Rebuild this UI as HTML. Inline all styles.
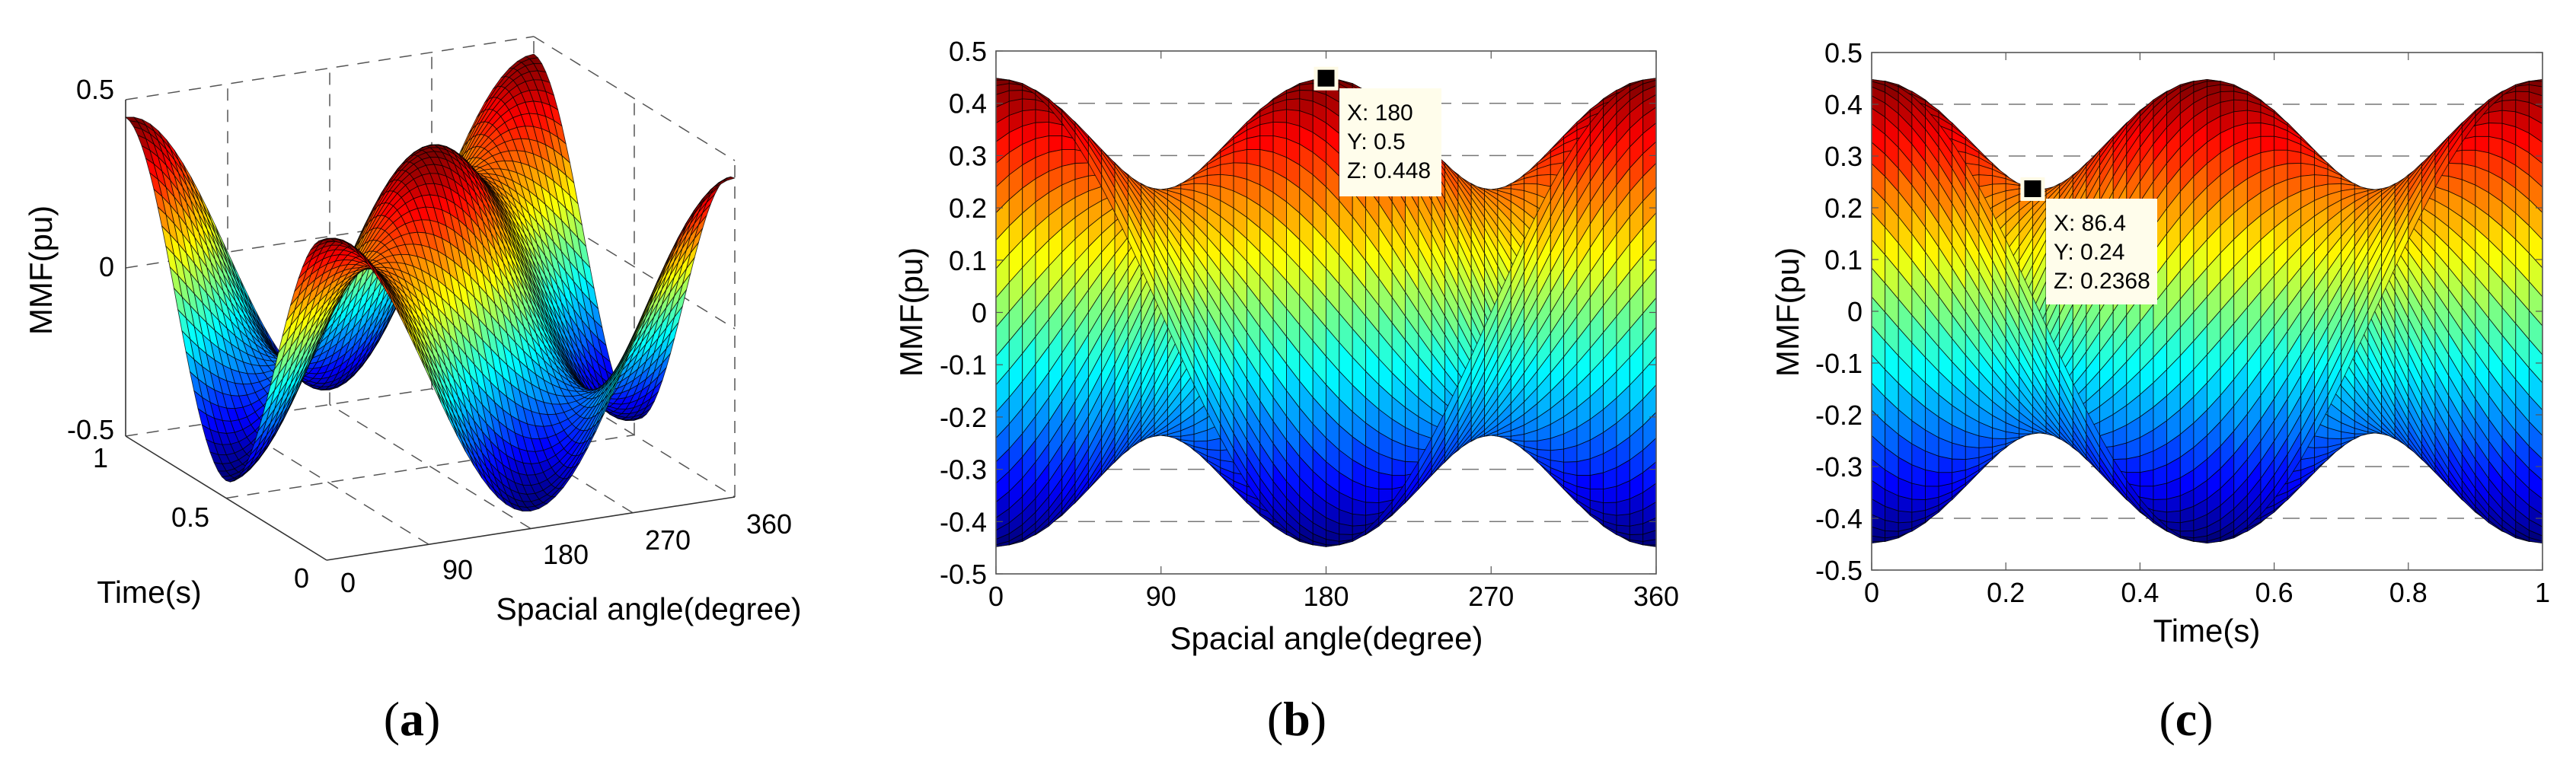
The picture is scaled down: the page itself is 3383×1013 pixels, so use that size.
<!DOCTYPE html>
<html><head><meta charset="utf-8"><style>
html,body{margin:0;padding:0;background:#fff;}
svg{display:block;font-family:"Liberation Sans",Arial,sans-serif;}
</style></head><body>
<svg id="root" width="3383" height="1013" viewBox="0 0 3383 1013" xmlns="http://www.w3.org/2000/svg">
<rect width="3383" height="1013" fill="#fff"/>
<g id="pa"></g>
<g id="pb"></g>
<g id="pc"></g>
<g id="labels" font-size="36" fill="#000">
  <text x="150" y="130" text-anchor="end">0.5</text>
  <text x="150" y="363" text-anchor="end">0</text>
  <text x="150" y="577" text-anchor="end">-0.5</text>
  <text x="132" y="614" text-anchor="middle">1</text>
  <text x="250" y="692" text-anchor="middle">0.5</text>
  <text x="396" y="772" text-anchor="middle">0</text>
  <text x="457" y="778" text-anchor="middle">0</text>
  <text x="601" y="761" text-anchor="middle">90</text>
  <text x="743" y="741" text-anchor="middle">180</text>
  <text x="877" y="722" text-anchor="middle">270</text>
  <text x="1010" y="701" text-anchor="middle">360</text>
  <text x="196" y="792" font-size="41" text-anchor="middle">Time(s)</text>
  <text x="852" y="814" font-size="41" text-anchor="middle">Spacial angle(degree)</text>
  <text transform="translate(68,355) rotate(-90)" font-size="42" text-anchor="middle">MMF(pu)</text>
  <text x="1742" y="853" font-size="42" text-anchor="middle">Spacial angle(degree)</text>
  <text transform="translate(1211,410) rotate(-90)" font-size="42" text-anchor="middle">MMF(pu)</text>
  <text x="2898" y="843" font-size="42" text-anchor="middle">Time(s)</text>
  <text transform="translate(2362,410) rotate(-90)" font-size="42" text-anchor="middle">MMF(pu)</text>
  <text x="541" y="966" font-family="'Liberation Serif',serif" font-size="64" text-anchor="middle">(<tspan font-weight="bold">a</tspan>)</text>
  <text x="1703" y="966" font-family="'Liberation Serif',serif" font-size="64" text-anchor="middle">(<tspan font-weight="bold">b</tspan>)</text>
  <text x="2871" y="966" font-family="'Liberation Serif',serif" font-size="64" text-anchor="middle">(<tspan font-weight="bold">c</tspan>)</text>
</g>
<g id="tips"></g>
</svg>
<script>
const angleStepDeg = [7.2];
const angleRange = [0, 360];
const timeStep = [0.02];
const timeRange = [0, 1];
const peakAmp = [0.448];
const quadAmp = [0.236];
const zTicks = [-0.5,-0.4,-0.3,-0.2,-0.1,0,0.1,0.2,0.3,0.4,0.5];
const zTickLabels = ["-0.5","-0.4","-0.3","-0.2","-0.1","0","0.1","0.2","0.3","0.4","0.5"];
const angleTicks = [0,90,180,270,360];
const timeTicks = [0,0.2,0.4,0.6,0.8,1];
const timeTickLabels = ["0","0.2","0.4","0.6","0.8","1"];
const gridLevels = [0.4,0.3,-0.3,-0.4];
const tipB = [180, 0.5, 0.448];
const tipC = [86.4, 0.24, 0.2368];

const NS = "http://www.w3.org/2000/svg";
function mk(tag, attrs, parent){ const e=document.createElementNS(NS,tag); for(const k in attrs) e.setAttribute(k,attrs[k]); parent.appendChild(e); return e; }

const angles=[]; for(let a=angleRange[0]; a<=angleRange[1]+1e-9; a+=angleStepDeg[0]) angles.push(a);
const times=[]; for(let t=timeRange[0]; t<=timeRange[1]+1e-9; t+=timeStep[0]) times.push(t);
function F(a,t){ const r=a*Math.PI/180, w=2*Math.PI*t; return peakAmp[0]*Math.cos(r)*Math.cos(w)+quadAmp[0]*Math.sin(r)*Math.sin(w); }
const Z = times.map(t=>angles.map(a=>F(a,t)));
let zmin=Infinity,zmax=-Infinity; Z.forEach(r=>r.forEach(v=>{zmin=Math.min(zmin,v);zmax=Math.max(zmax,v);}));
function cl(x){return Math.max(0,Math.min(1,x));}
function jet(z){ let l=Math.floor((z-zmin)/(zmax-zmin)*63.999); const v=l/63;
  const r=cl(1.5-Math.abs(4*v-3)), g=cl(1.5-Math.abs(4*v-2)), b=cl(1.5-Math.abs(4*v-1));
  return `rgb(${Math.round(r*255)},${Math.round(g*255)},${Math.round(b*255)})`; }

const faces=[];
for(let i=0;i<times.length-1;i++) for(let j=0;j<angles.length-1;j++){
  faces.push({i,j,c:jet((Z[i][j]+Z[i+1][j]+Z[i][j+1]+Z[i+1][j+1])/4)});
}
function quad(i,j,proj){ return [[i,j],[i,j+1],[i+1,j+1],[i+1,j]].map(([p,q])=>proj(angles[q],times[p],Z[p][q])); }
function drawFaces(g, list, proj, name){
  for(const f of list){
    const pts=quad(f.i,f.j,proj).map(p=>p[0].toFixed(1)+","+p[1].toFixed(1)).join(" ");
    const el=mk("polygon",{points:pts,fill:f.c,stroke:"#000","stroke-width":"0.9","stroke-opacity":"0.75","stroke-linejoin":"round"},g);
    
    
  }
}

const pa=document.getElementById("pa");
function P3(a,t,z){ return [429+536*a/360-264*t, 736-83*a/360-163*t-442*(z+0.5)]; }
function line3(p1,p2,dash,name){
  const A=P3(...p1),B=P3(...p2);
  const el=mk("line",{x1:A[0],y1:A[1],x2:B[0],y2:B[1],stroke:dash?"#555":"#333","stroke-width":dash?1.5:1.6},pa);
  if(dash) el.setAttribute("stroke-dasharray","16,12");
  
  
}
[-0.5,0,0.5].forEach(z=>{ line3([0,1,z],[360,1,z],true,"a-backwall-grid"); line3([360,1,z],[360,0,z],true,"a-sidewall-grid"); });
[90,180,270,360].forEach(a=>line3([a,1,-0.5],[a,1,0.5],true,"a-backwall-vgrid"));
[0,0.5].forEach(t=>line3([360,t,-0.5],[360,t,0.5],true,"a-sidewall-vgrid"));
line3([0,0.5,-0.5],[360,0.5,-0.5],true,"a-floor-grid");
[90,180,270].forEach(a=>line3([a,0,-0.5],[a,1,-0.5],true,"a-floor-grid"));
line3([0,1,-0.5],[0,1,0.5],false,"a-z-axis");
line3([0,1,-0.5],[0,0,-0.5],false,"a-time-axis");
line3([0,0,-0.5],[360,0,-0.5],false,"a-angle-axis");
const fa=faces.slice().sort((f,g)=>{const d=(x)=>-83*angles[x.j]/360-163*times[x.i]; return d(f)-d(g);});
drawFaces(pa,fa,P3,"a-surface-face");

function panel2D(g,x0,x1,y0,y1,proj,order,name,xt,xl,xv){
  const ys=z=>y1-(y1-y0)*(z+0.5);
  gridLevels.forEach(z=>{ const el=mk("line",{x1:x0,x2:x1,y1:ys(z),y2:ys(z),stroke:"#777","stroke-width":1.5,"stroke-dasharray":"22,14"},g);
    
     });
  drawFaces(g,order,proj,name+"-surface-face");
  const box=mk("rect",{x:x0,y:y0,width:x1-x0,height:y1-y0,fill:"none",stroke:"#555","stroke-width":1.6},g);
  
  
  zTicks.forEach((z,k)=>{ const y=ys(z);
    mk("line",{x1:x0,x2:x0+9,y1:y,y2:y,stroke:"#555","stroke-width":1.2},g);
    mk("line",{x1:x1,x2:x1-9,y1:y,y2:y,stroke:"#555","stroke-width":1.2},g);
    const tx=mk("text",{x:x0-12,y:y+13,"text-anchor":"end","font-size":36},g); tx.textContent=zTickLabels[k];
    
     });
  xt.forEach((v,k)=>{ const x=xv(v);
    mk("line",{x1:x,x2:x,y1:y1,y2:y1-10,stroke:"#555","stroke-width":1.2},g);
    mk("line",{x1:x,x2:x,y1:y0,y2:y0+10,stroke:"#555","stroke-width":1.2},g);
    const tx=mk("text",{x:x,y:y1+42,"text-anchor":"middle","font-size":36},g); tx.textContent=xl[k];
    
     });
}
const bx=a=>1308+867*a/360, by=z=>754-687*(z+0.5);
const fb=faces.slice().sort((f,g)=>g.i-f.i);
panel2D(document.getElementById("pb"),1308,2175,67,754,(a,t,z)=>[bx(a),by(z)],fb,"b",angleTicks,angleTicks.map(String),bx);
const cx=t=>2458+881*t, cy=z=>749-680*(z+0.5);
const fc=faces.slice().sort((f,g)=>f.j-g.j);
panel2D(document.getElementById("pc"),2458,3339,69,749,(a,t,z)=>[cx(t),cy(z)],fc,"c",timeTicks,timeTickLabels,cx);

const tips=document.getElementById("tips");
function tip(mx,my,bxL,byT,bw,bh,vals,name){
  const g=mk("g",{},tips);
  
  
  mk("rect",{x:mx-16,y:my-15,width:32,height:31,fill:"#fffbe6"},g);
  mk("rect",{x:mx-11,y:my-11,width:22,height:22,fill:"#000"},g);
  mk("rect",{x:bxL,y:byT,width:bw,height:bh,fill:"#fffdeb"},g);
  const lab=["X: ","Y: ","Z: "];
  vals.forEach((v,k)=>{ const t=mk("text",{x:bxL+10,y:byT+42+k*38,"font-size":30},g); t.textContent=lab[k]+v;
    
     });
}
tip(bx(tipB[0]),by(tipB[2]),1759,116,134,142,tipB,"b-datatip");
tip(cx(tipC[1]),cy(tipC[2]),2687,261,146,139,tipC,"c-datatip");
</script>
</body></html>
